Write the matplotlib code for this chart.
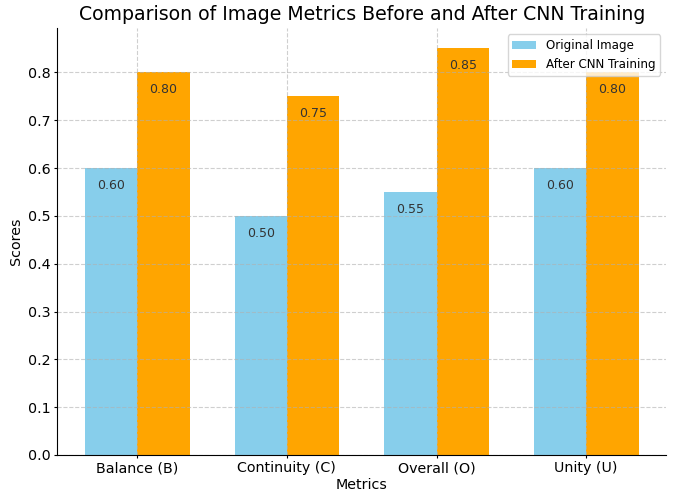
import matplotlib
matplotlib.use("Agg")
import matplotlib.pyplot as plt
import numpy as np

metrics = ["Balance (B)", "Continuity (C)", "Overall (O)", "Unity (U)"]
original = [0.60, 0.50, 0.55, 0.60]
after_cnn = [0.80, 0.75, 0.85, 0.80]

x = np.arange(len(metrics))
width = 0.35

fig, ax = plt.subplots(figsize=(6.73, 4.94), dpi=100)
bars1 = ax.bar(x - width / 2, original, width, label="Original Image", color="skyblue")
bars2 = ax.bar(x + width / 2, after_cnn, width, label="After CNN Training", color="orange")

for bars in (bars1, bars2):
    for b in bars:
        h = b.get_height()
        ax.text(b.get_x() + b.get_width() / 2, h - 0.05, f"{h:.2f}",
                ha="center", va="bottom", fontsize=9, color="#333333")

ax.set_xlabel("Metrics", fontsize=10.3, labelpad=2)
ax.set_ylabel("Scores", fontsize=10.3, labelpad=4)
ax.set_title("Comparison of Image Metrics Before and After CNN Training", fontsize=13.6)
ax.set_xticks(x)
ax.set_xticklabels(metrics, fontsize=10.3)
ax.tick_params(axis="x", length=2, pad=2.5)
ax.tick_params(axis="y", labelsize=10.3, length=2, pad=2.5)
ax.legend(loc="upper right", fontsize=8.6)
ax.grid(True, linestyle="--", alpha=0.6)
ax.spines["top"].set_visible(False)
ax.spines["right"].set_visible(False)

fig.subplots_adjust(left=0.085, right=0.99, top=0.943, bottom=0.079)
fig.savefig("out.png")
